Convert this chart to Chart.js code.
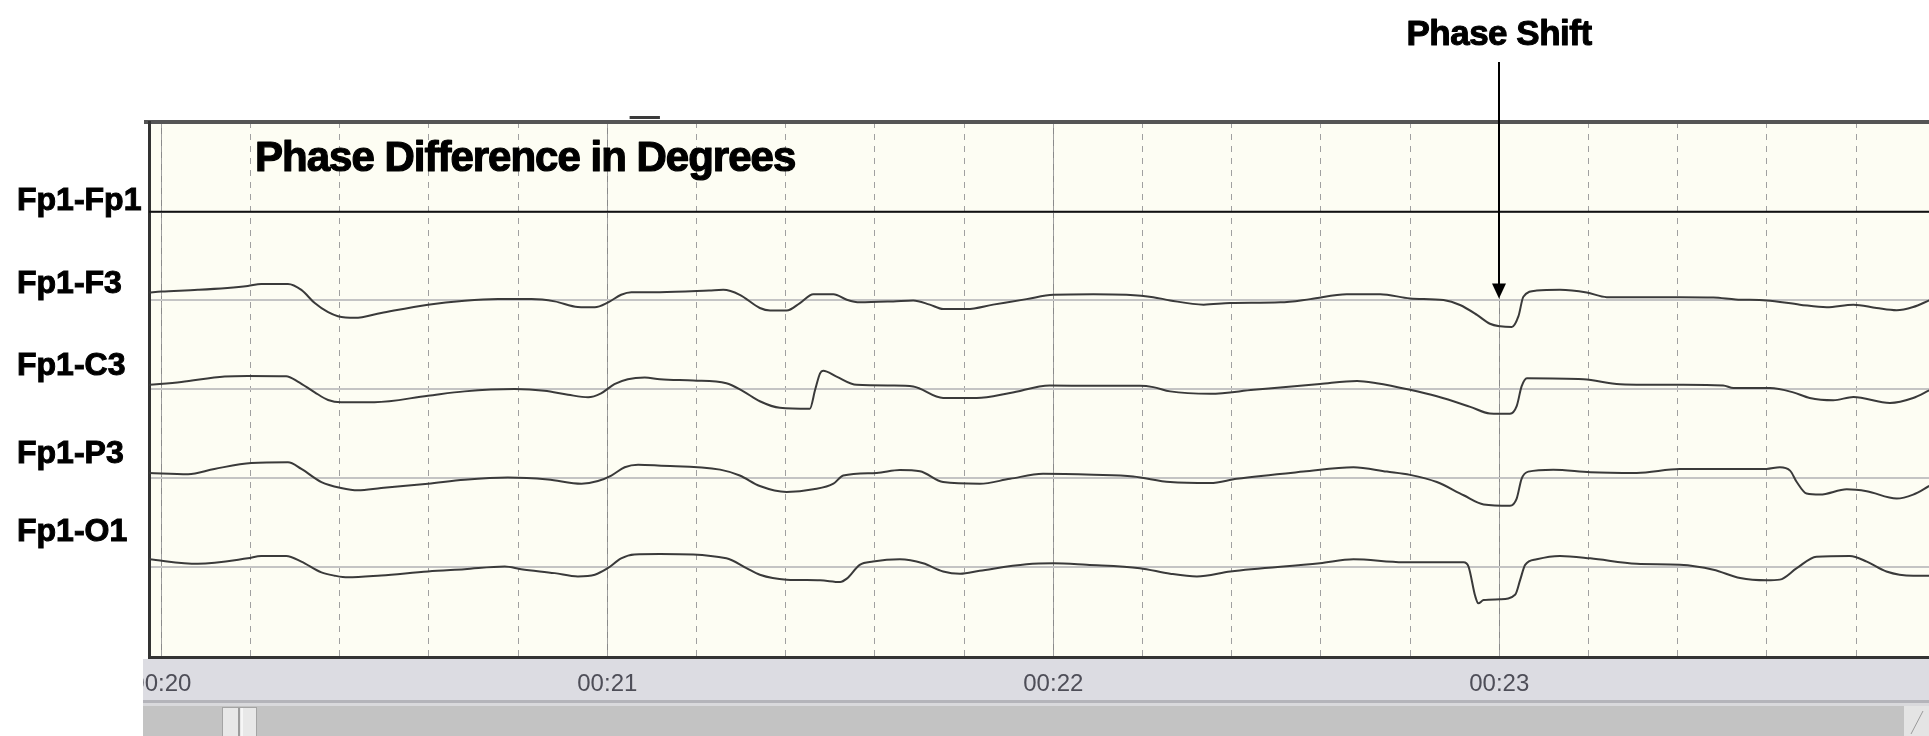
<!DOCTYPE html>
<html>
<head>
<meta charset="utf-8">
<script src="https://cdn.jsdelivr.net/npm/chart.js@4.4.1/dist/chart.umd.min.js"></script>
<style>
html,body{margin:0;padding:0;background:#ffffff;overflow:hidden}
canvas{display:block}
</style>
</head>
<body>
<canvas id="c" width="1929" height="736"></canvas>
<script>
// ---------------- data ----------------
const chartTitle = 'Phase Difference in Degrees';
const annotationText = 'Phase Shift';
const annotationTime = 23.0;          // seconds
const channelNames = ['Fp1-Fp1', 'Fp1-F3', 'Fp1-C3', 'Fp1-P3', 'Fp1-O1'];
const channelLabelRows = [0, 1, 2, 3.06, 4];
const timeTickLabels = ['00:20', '00:21', '00:22', '00:23'];
const firstTickSecond = 20;
const viewStart = 19.9724;            // seconds
const viewEnd = 23.9635;              // seconds

// phase difference (degrees) relative to each channel's baseline
const fp1Fp1Times = [19.972, 23.964];
const fp1Fp1Phase = [0, 0];

const fp1F3Times = [19.972, 20.000, 20.082, 20.194, 20.224, 20.284, 20.314, 20.344, 20.374, 20.396, 20.434, 20.493, 20.598, 20.680, 20.755, 20.830, 20.882, 20.934, 20.972, 21.002, 21.031, 21.054, 21.118, 21.228, 21.260, 21.297, 21.342, 21.365, 21.402, 21.432, 21.462, 21.507, 21.537, 21.566, 21.641, 21.686, 21.723, 21.753, 21.806, 21.865, 21.940, 22.000, 22.090, 22.164, 22.224, 22.262, 22.337, 22.397, 22.509, 22.576, 22.658, 22.733, 22.800, 22.875, 22.912, 22.950, 22.979, 23.002, 23.028, 23.043, 23.054, 23.084, 23.136, 23.196, 23.241, 23.405, 23.480, 23.530, 23.599, 23.674, 23.734, 23.794, 23.846, 23.891, 23.928, 23.964];
const fp1F3Phase = [8, 9, 10.7, 14.7, 16.7, 16.7, 10.7, -2.7, -12, -16, -17.7, -12.7, -4.3, -0.3, 1.3, 1.3, -1, -6.7, -7, -2, 5.7, 8.3, 8.3, 10, 10.7, 5.7, -7.7, -10.3, -10.3, -2.7, 6.3, 6.3, 0.7, -2, -1, 0, -4.3, -8.7, -8.7, -4.3, 1.3, 5.7, 6.3, 5.7, 3.3, 0, -4.3, -2.7, -2, 1.3, 6.3, 6.3, 2, 0.3, -4.7, -14.7, -23.7, -26.3, -27, -16, 3.7, 10, 10.7, 8, 3.3, 3.3, 3, 1, 0, -4.3, -7, -4.3, -7.7, -10, -6.7, 0];

const fp1C3Times = [19.972, 20.045, 20.142, 20.194, 20.280, 20.306, 20.344, 20.374, 20.403, 20.478, 20.598, 20.680, 20.792, 20.859, 20.912, 20.957, 20.986, 21.016, 21.046, 21.084, 21.118, 21.193, 21.267, 21.305, 21.342, 21.387, 21.454, 21.466, 21.477, 21.484, 21.514, 21.559, 21.641, 21.686, 21.753, 21.828, 21.903, 21.992, 22.090, 22.194, 22.224, 22.262, 22.352, 22.449, 22.598, 22.681, 22.725, 22.800, 22.860, 22.935, 22.979, 23.024, 23.039, 23.050, 23.062, 23.189, 23.271, 23.405, 23.502, 23.525, 23.607, 23.659, 23.696, 23.749, 23.794, 23.876, 23.928, 23.964];
const fp1C3Phase = [4.3, 7.3, 12.7, 13.3, 13, 7.7, -3.3, -11, -13.3, -13.3, -6.7, -2.3, 0, -1.7, -5.7, -8.3, -4.3, 5, 10, 11.7, 10, 8.7, 6, -2.3, -12.3, -19, -20, -0.7, 16, 18.7, 12.7, 4.3, 3.7, 2.7, -9, -9, -4, 3.7, 3.3, 3.3, 2, -2.3, -4.7, -0.7, 5.3, 8.3, 6, -0.7, -7.3, -18, -24.7, -25, -17.3, 2.7, 11, 10, 5, 4.3, 3.7, 1, 1, -3.3, -9, -11.3, -8, -14, -9, -1.3];

const fp1P3Times = [19.972, 20.060, 20.119, 20.202, 20.284, 20.314, 20.359, 20.403, 20.441, 20.493, 20.598, 20.680, 20.777, 20.867, 20.942, 20.979, 21.009, 21.039, 21.069, 21.113, 21.253, 21.297, 21.342, 21.402, 21.462, 21.507, 21.529, 21.604, 21.656, 21.701, 21.753, 21.835, 21.903, 21.977, 22.090, 22.179, 22.262, 22.352, 22.411, 22.561, 22.673, 22.748, 22.800, 22.860, 22.920, 22.965, 23.024, 23.039, 23.050, 23.065, 23.121, 23.204, 23.308, 23.405, 23.599, 23.629, 23.652, 23.667, 23.689, 23.719, 23.779, 23.824, 23.891, 23.928, 23.964];
const fp1P3Phase = [5, 3.7, 9, 15, 15.7, 9, -4.3, -10.3, -12.7, -10.3, -6, -2, 0.3, -1.7, -6, -3.3, 2.3, 10.7, 13.3, 12.5, 8.3, 2.3, -8.3, -14.3, -11.7, -6, 2.3, 5, 8, 6.7, -4.3, -6, -1, 4, 3, 1.3, -4.3, -5.3, -1, 6.3, 10.7, 6.3, 3, -4.3, -17.7, -27, -28.3, -21, -1, 6.3, 8.3, 5.7, 5, 9, 9, 10.7, 7.3, -4.3, -16, -17, -11.7, -13.7, -21, -17, -8.3];

const fp1O1Times = [19.972, 20.082, 20.194, 20.224, 20.280, 20.314, 20.359, 20.389, 20.418, 20.493, 20.598, 20.680, 20.770, 20.807, 20.882, 20.934, 20.972, 21.001, 21.031, 21.061, 21.118, 21.267, 21.312, 21.342, 21.402, 21.477, 21.522, 21.537, 21.566, 21.596, 21.656, 21.708, 21.753, 21.791, 21.835, 21.940, 22.000, 22.075, 22.194, 22.262, 22.322, 22.397, 22.598, 22.673, 22.785, 22.920, 22.931, 22.946, 22.953, 22.965, 23.002, 23.036, 23.047, 23.058, 23.084, 23.136, 23.204, 23.308, 23.405, 23.480, 23.540, 23.599, 23.629, 23.667, 23.711, 23.786, 23.824, 23.868, 23.928, 23.964];
const fp1O1Phase = [7.3, 2.7, 8.3, 10.7, 10.7, 5, -6, -9.3, -11, -9, -5, -2.7, 0, -2.7, -6.7, -10, -8.3, -1.7, 8.3, 12.3, 12.7, 8.3, -1.7, -8.3, -13.3, -14, -15.7, -12.3, 1.7, 5, 7.3, 3.3, -5, -7.3, -4.3, 2.3, 3.3, 1.7, -1.7, -7.3, -10, -5, 3.3, 7.3, 4.3, 4.3, 0, -30, -37.3, -34, -33.3, -28.3, -13.3, 1.7, 7.3, 10.7, 8.3, 2.7, 1.7, -3.3, -11.7, -14, -13.3, -1.7, 10, 10.7, 5, -5, -9.3, -9.3];

// ---------------- build ----------------
const channelTimes = [fp1Fp1Times, fp1F3Times, fp1C3Times, fp1P3Times, fp1O1Times];
const channelPhase = [fp1Fp1Phase, fp1F3Phase, fp1C3Phase, fp1P3Phase, fp1O1Phase];
const channelSpacing = 90;
const baselineOf = i => (channelNames.length - i) * channelSpacing;
const baselines = channelNames.map((_, i) => baselineOf(i));

const FONT = '"Liberation Sans", Arial, Helvetica, sans-serif';

const datasets = channelNames.map((name, i) => ({
  label: name,
  data: channelTimes[i].map((t, j) => ({x: t, y: baselineOf(i) + channelPhase[i][j]})),
  borderColor: i === 0 ? '#111111' : '#3a3a3a',
  borderWidth: 2,
  pointRadius: 0,
  fill: false,
  cubicInterpolationMode: 'monotone',
  xAxisID: 'x',
  yAxisID: 'y'
}));

function boldText(ctx, text, x, y, stroke) {
  ctx.lineWidth = stroke;
  ctx.lineJoin = 'round';
  ctx.strokeStyle = ctx.fillStyle;
  ctx.strokeText(text, x, y);
  ctx.fillText(text, x, y);
}

const chromePlugin = {
  id: 'chrome',
  beforeDraw(chart) {
    const {ctx, chartArea: a, width, height} = chart;
    ctx.save();
    ctx.fillStyle = '#ffffff';
    ctx.fillRect(0, 0, width, height);
    ctx.fillStyle = '#fdfdf3';
    ctx.fillRect(a.left, a.top, a.right - a.left, a.bottom - a.top);
    // time strip and scrollbar below the plot
    const sx = a.left - 6;
    const y0 = a.bottom + 2;
    ctx.fillStyle = '#dcdce2';
    ctx.fillRect(sx, y0, width - sx, 41);
    ctx.fillStyle = '#b4b4ba';
    ctx.fillRect(sx, y0 + 41, width - sx, 3);
    ctx.fillStyle = '#d9d9dc';
    ctx.fillRect(sx, y0 + 44, width - sx, 3);
    ctx.fillStyle = '#c3c3c3';
    ctx.fillRect(sx, y0 + 47, width - sx - 25, height - y0 - 47);
    ctx.fillStyle = '#e4e4e4';
    ctx.fillRect(width - 25, y0 + 47, 25, height - y0 - 47);
    ctx.strokeStyle = '#9a9a9a';
    ctx.lineWidth = 1;
    ctx.beginPath();
    ctx.moveTo(width - 18, height - 2); ctx.lineTo(width - 6, y0 + 52);
    ctx.stroke();
    // scrollbar thumb
    const tx = a.left + 73;
    ctx.fillStyle = '#e8e8e8';
    ctx.fillRect(tx, y0 + 48, 35, height - y0 - 48);
    ctx.strokeStyle = '#a4a4a4';
    ctx.lineWidth = 1;
    ctx.strokeRect(tx + 0.5, y0 + 48.5, 34, height - y0 - 48);
    ctx.fillStyle = '#9c9c9c';
    ctx.fillRect(tx + 16, y0 + 49, 2, height - y0 - 49);
    ctx.fillStyle = '#f6f6f6';
    ctx.fillRect(tx + 19, y0 + 49, 2, height - y0 - 49);
    // top frame extends slightly left of the plot
    ctx.fillStyle = '#555555';
    ctx.fillRect(a.left - 5, a.top - 2, 6, 4);
    ctx.restore();
  },
  afterDraw(chart) {
    const {ctx, chartArea: a, scales} = chart;
    ctx.save();
    // clip the time strip on the left
    ctx.fillStyle = '#ffffff';
    ctx.fillRect(0, a.bottom + 2, a.left - 6, chart.height - a.bottom);
    // small marker on the top frame
    const m0 = scales.x.getPixelForValue(21.05);
    const m1 = scales.x.getPixelForValue(21.118);
    ctx.fillStyle = '#3a3a3a';
    ctx.fillRect(m0, a.top - 6, m1 - m0, 3);
    // title inside plot
    ctx.fillStyle = '#000000';
    ctx.font = 'bold 42px ' + FONT;
    ctx.letterSpacing = '-1px';
    ctx.textAlign = 'left';
    ctx.textBaseline = 'alphabetic';
    boldText(ctx, chartTitle, a.left + 106, a.top + 49, 1.2);
    // Phase Shift annotation
    const ax = Math.round(scales.x.getPixelForValue(annotationTime));
    ctx.font = 'bold 35px ' + FONT;
    ctx.letterSpacing = '-0.5px';
    ctx.textAlign = 'center';
    boldText(ctx, annotationText, ax, 45, 1.0);
    ctx.letterSpacing = '0px';
    const tipY = scales.y.getPixelForValue(baselineOf(1)) - 2;
    ctx.strokeStyle = '#000000';
    ctx.lineWidth = 2;
    ctx.beginPath();
    ctx.moveTo(ax, 62);
    ctx.lineTo(ax, tipY - 12);
    ctx.stroke();
    ctx.beginPath();
    ctx.moveTo(ax - 7, tipY - 15);
    ctx.lineTo(ax + 7, tipY - 15);
    ctx.lineTo(ax, tipY);
    ctx.closePath();
    ctx.fill();
    ctx.restore();
  }
};

new Chart(document.getElementById('c'), {
  type: 'line',
  data: {datasets},
  options: {
    responsive: false,
    devicePixelRatio: 1,
    animation: false,
    events: [],
    layout: {padding: {left: 17, top: 122, right: 0, bottom: 0}},
    plugins: {legend: {display: false}, tooltip: {enabled: false}, title: {display: false}},
    scales: {
      x: {
        type: 'linear', position: 'bottom', min: viewStart, max: viewEnd,
        ticks: {
          stepSize: 1, includeBounds: false, autoSkip: false, maxRotation: 0, minRotation: 0,
          padding: 13, color: '#4e4e58', font: {family: FONT, size: 24},
          callback: v => timeTickLabels[Math.round(v) - firstTickSecond] ?? ''
        },
        grid: {color: '#8a8a8a', lineWidth: 1, drawTicks: false},
        border: {display: true, color: '#333333', width: 3},
        afterFit: s => { s.height = 79; }
      },
      xMinor: {
        type: 'linear', position: 'bottom', min: viewStart, max: viewEnd,
        ticks: {display: false, stepSize: 0.2, includeBounds: false},
        grid: {color: '#a0a0a0', lineWidth: 1, drawTicks: false},
        border: {display: false, dash: [6, 6]},
        afterFit: s => { s.height = 0; }
      },
      xTop: {
        type: 'linear', position: 'top', min: viewStart, max: viewEnd,
        ticks: {display: false},
        grid: {display: false, drawTicks: false},
        border: {display: true, color: '#555555', width: 4},
        afterFit: s => { s.height = 0; }
      },
      y: {
        type: 'linear', position: 'left', min: -1.8, max: 541,
        ticks: {display: false},
        grid: {color: '#c4c4c4', lineWidth: 2, drawTicks: false},
        border: {display: false},
        afterBuildTicks: s => { s.ticks = baselines.map(v => ({value: v})); },
        afterFit: s => { s.width = 0; }
      },
      yl: {
        type: 'linear', position: 'left', reverse: true, min: -0.955, max: 5.51,
        ticks: {
          crossAlign: 'far', padding: 0, color: '#000000',
          font: {family: FONT, size: 32, weight: 'bold'},
          textStrokeColor: '#000000', textStrokeWidth: 1,
          callback: (v, idx) => channelNames[idx] ?? ''
        },
        grid: {display: false, drawTicks: false},
        border: {display: true, color: '#333333', width: 3},
        afterBuildTicks: s => { s.ticks = channelLabelRows.map(v => ({value: v})); },
        afterFit: s => { s.width = 132; }
      }
    }
  },
  plugins: [chromePlugin]
});
</script>
</body>
</html>
